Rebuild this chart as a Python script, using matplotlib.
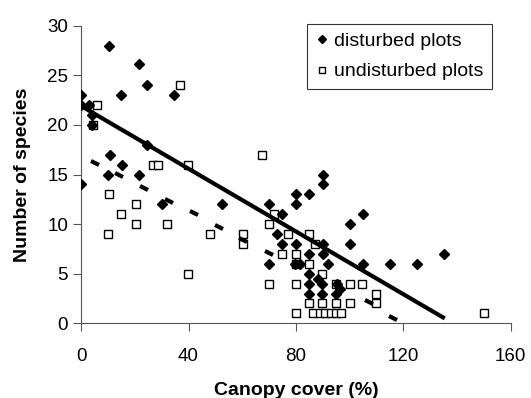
import matplotlib
matplotlib.use("Agg")
import matplotlib.pyplot as plt
from matplotlib.markers import MarkerStyle
from matplotlib.transforms import Affine2D

# disturbed plots: canopy cover (%) and number of species
disturbed_x = [0, 0, 3, 10.5, 21.7, 24.6, 14.8, 34.6, 3.9, 3.9, 24.6, 10.7, 15.1, 0, 9.9,
               21.7, 30, 52.5, 90, 90, 80, 85, 80, 70, 74.7, 72.9, 74.7, 80, 90, 85, 90,
               70, 79.5, 81.5, 92, 85, 88.4, 85, 89.6, 85, 89.6, 95.5, 96.5, 95, 100, 100,
               105, 105, 115, 125.3, 135.2]
disturbed_y = [23, 22, 22, 28, 26.1, 24, 23, 23, 21, 20, 18, 17, 16, 14, 15,
               15, 12, 12, 15, 14, 13, 13, 12, 12, 11, 9, 8, 8, 8, 7, 7,
               6, 6, 6, 6, 5, 4.5, 4, 4, 3, 3, 4, 3.5, 3, 10, 8,
               11, 6, 6, 6, 7]

# disturbed points half hidden behind others, show up as short dashes
hidden_x = [5.1, 14.2, 23.5, 32.8, 42, 51.5, 60.4, 70, 107.4, 116.3]
hidden_y = [16.2, 15, 13.6, 12.3, 11.1, 9.7, 8.4, 7.1, 2.1, 0.5]

# undisturbed plots
undisturbed_x = [5.8, 4.5, 36.8, 26.9, 28.7, 39.9, 10.4, 14.8, 20.3, 20.3, 9.9, 31.9, 39.9,
                 48, 67.3, 60.2, 60.2, 72, 70, 77, 85, 74.7, 80, 87, 80, 85, 89.6, 70, 80,
                 95, 100, 104.5, 110, 110, 100, 95, 89.6, 85, 80, 86.5, 89, 91, 93, 95,
                 97, 150]
undisturbed_y = [22, 20, 24, 16, 16, 16, 13, 11, 12, 10, 9, 10, 5,
                 9, 17, 9, 8, 11, 10, 9, 9, 7, 7, 8, 6, 6, 5, 4, 4,
                 4, 4, 4, 3, 2, 2, 2, 2, 2, 1, 1, 1, 1, 1, 1,
                 1, 1]

# linear trend through all plots
trend_a = 21.9
trend_b = -0.158
trend_x = [0, 135.5]

plt.rcParams['font.family'] = ['Liberation Sans', 'DejaVu Sans']

fig = plt.figure(figsize=(5.31, 3.98), dpi=100)
ax = fig.add_axes([0.153, 0.1877, 0.8084, 0.7477])

ax.plot(undisturbed_x, undisturbed_y, 's', ms=6.3, mfc='white', mec='black', mew=1.0,
        label='undisturbed plots', zorder=3)
ax.plot(disturbed_x, disturbed_y, 'D', ms=5.4, color='black', label='disturbed plots', zorder=4)
dash = MarkerStyle('_', transform=Affine2D().rotate_deg(-30))
ax.plot(hidden_x, hidden_y, ls='none', marker=dash, ms=6, mew=3, color='black', zorder=4)

ax.plot(trend_x, [trend_a + trend_b * x for x in trend_x], color='black', lw=3,
        solid_capstyle='butt', zorder=5)

ax.set_xlim(0, 160)
ax.set_ylim(0, 30)
ax.set_xticks(range(0, 161, 40))
ax.set_yticks(range(0, 31, 5))
ax.spines['top'].set_visible(False)
ax.spines['right'].set_visible(False)
ax.spines['left'].set_color('#555555')
ax.spines['bottom'].set_color('#555555')
ax.tick_params(direction='out', length=6, width=0.8, colors='#555555', labelcolor='black',
               labelsize=13.5)
ax.tick_params(axis='x', pad=12)
for sp in ax.spines.values():
    sp.set_clip_on(False)

ax.set_xlabel('Canopy cover (%)', fontsize=14, fontweight='bold', labelpad=12)
ax.set_ylabel('Number of species', fontsize=14, fontweight='bold', labelpad=11.5)

handles, labels = ax.get_legend_handles_labels()
leg = ax.legend(handles[::-1], labels[::-1], loc='upper right', bbox_to_anchor=(0.957, 1.005),
                fontsize=14, frameon=True, fancybox=False, edgecolor='black',
                handlelength=0.6, handletextpad=0.35, borderpad=0.43, labelspacing=0.65,
                markerscale=0.75, borderaxespad=0)
leg.get_frame().set_linewidth(0.8)

fig.savefig('out.png', dpi=100)
